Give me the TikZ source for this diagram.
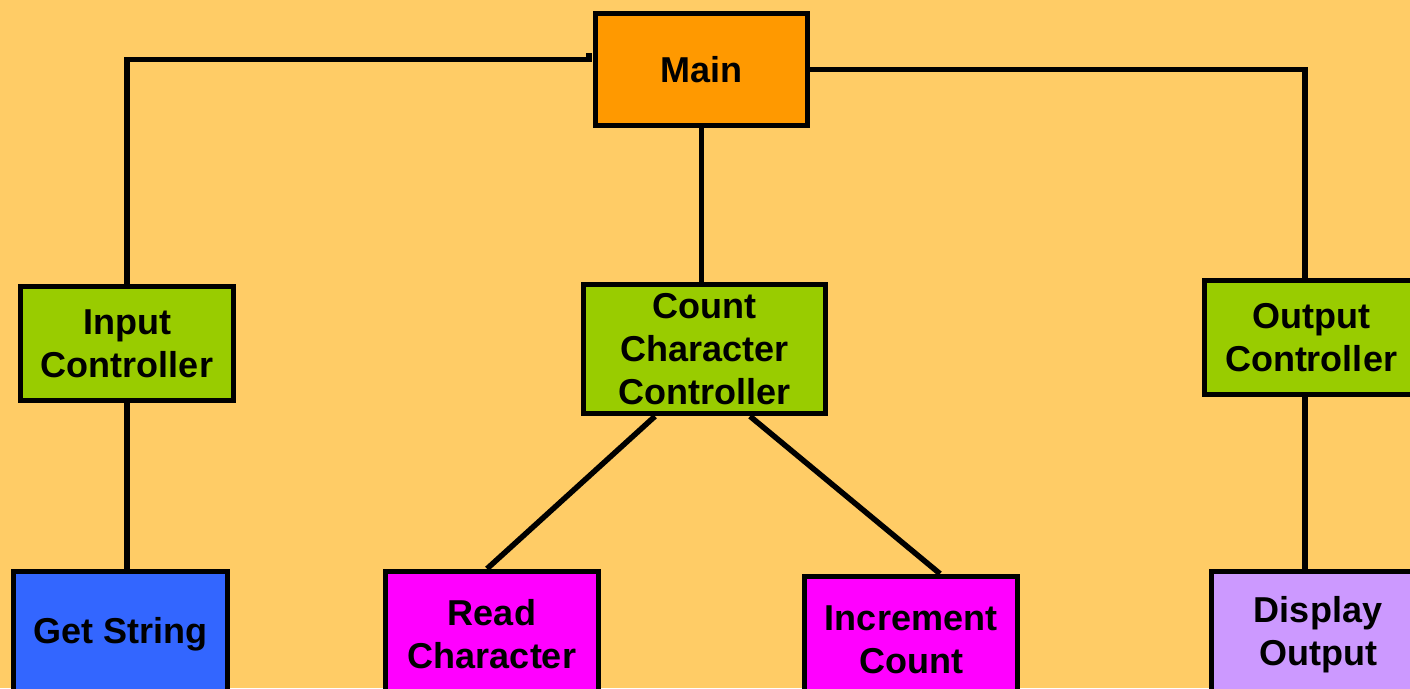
\documentclass[tikz,border=0pt]{standalone}
\usepackage{fontspec}
\setmainfont{Liberation Sans}
\usepackage{tikz}
\usetikzlibrary{positioning}

\definecolor{bgorange}{HTML}{FFCC66}
\definecolor{mainorange}{HTML}{FF9900}
\definecolor{ctrlgreen}{HTML}{99CC00}
\definecolor{getblue}{HTML}{3366FF}
\definecolor{workmagenta}{HTML}{FF00FF}
\definecolor{showlilac}{HTML}{CC99FF}

\begin{document}
\begin{tikzpicture}[
				x=1pt, y=1pt,
				modbox/.style={rectangle, draw=black, line width=5.5pt, align=center,
					minimum width=213pt, minimum height=114pt, inner sep=0pt,
					font=\fontsize{36}{43}\selectfont\bfseries},
				leafbox/.style={modbox, minimum height=126pt},
				link/.style={draw=black, line width=5.5pt},
				]

				\useasboundingbox (0,0) rectangle (1410,-688);
				\fill[bgorange] (0,0) rectangle (1410,-688);

				%Nodes
				\node[modbox, fill=mainorange, minimum width=212pt, minimum height=112pt]	(main)		at (701.5,-69.5)	{Main};
				\node[modbox, fill=ctrlgreen]		(inctrl)	at (127,-343.5)		{Input\\Controller};
				\node[modbox, fill=ctrlgreen, minimum width=242pt, minimum height=129pt]	(ccctrl)	at (704.5,-349)	{Count\\Character\\Controller};
				\node[modbox, fill=ctrlgreen]		(outctrl)	at (1311,-337.5)	{Output\\Controller};
				\node[leafbox, fill=getblue, minimum width=214pt]		(getstr)	at (120.5,-634.5)	{Get String};
				\node[leafbox, fill=workmagenta]		(readch)	at (492,-634.5)		{Read\\Character};
				\node[leafbox, fill=workmagenta]		(incr)		at (911,-639.5)		{Increment\\Count};
				\node[leafbox, fill=showlilac]		(dispout)	at (1318,-634.5)	{Display\\Output};
				\coordinate (hook) at (589,-59.5);

				%Lines
				\draw[link]	(inctrl.north) |- (hook) -- ++(0,7);
				\draw[link]	(main.east) -| ([xshift=-6pt]outctrl.north);
				\draw[link]	(main.south) -- (main.south |- ccctrl.north);
				\draw[link]	(inctrl.south) -- (inctrl.south |- getstr.north);
				\draw[link]	([xshift=-49.5pt]ccctrl.south) -- ([xshift=-5pt]readch.north);
				\draw[link]	([xshift=45.5pt]ccctrl.south) -- ([xshift=29pt]incr.north);
				\draw[link]	([xshift=-6pt]outctrl.south) -- ([xshift=-6pt]outctrl.south |- dispout.north);
			\end{tikzpicture}
\end{document}
